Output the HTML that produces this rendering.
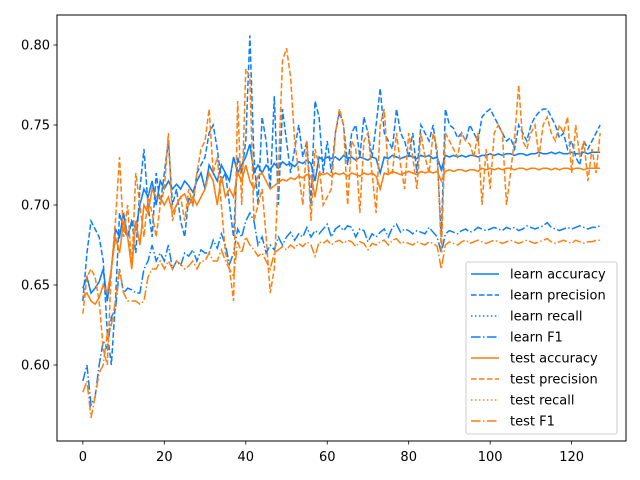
<!DOCTYPE html>
<html><head><meta charset="utf-8"><style>
body{margin:0;background:#fff}
svg{display:block;font-family:"DejaVu Sans","Liberation Sans",sans-serif}
</style></head><body>
<svg id="chart" width="640" height="480" xmlns="http://www.w3.org/2000/svg">
<rect width="640" height="480" fill="#fff"/>
<g id="plot"></g>
<rect x="57" y="15" width="569" height="426" fill="none" stroke="#000" stroke-width="1"/>
<g id="axes"></g>
<g id="legend"></g>
</svg>
<script>
const xTicks=[0,20,40,60,80,100,120];
const yTicks=[0.60,0.65,0.70,0.75,0.80];
const learnAccuracy=[0.648,0.655,0.645,0.648,0.652,0.66,0.64,0.66,0.685,0.68,0.695,0.68,0.69,0.685,0.70,0.71,0.705,0.715,0.70,0.715,0.71,0.715,0.71,0.713,0.71,0.715,0.712,0.708,0.715,0.72,0.71,0.725,0.72,0.715,0.725,0.72,0.715,0.73,0.72,0.725,0.73,0.738,0.72,0.725,0.72,0.725,0.722,0.726,0.723,0.727,0.725,0.726,0.724,0.727,0.726,0.728,0.726,0.715,0.73,0.728,0.73,0.729,0.73,0.728,0.731,0.729,0.73,0.728,0.73,0.729,0.728,0.73,0.729,0.72,0.73,0.729,0.731,0.73,0.729,0.73,0.731,0.73,0.729,0.731,0.73,0.731,0.729,0.73,0.722,0.731,0.73,0.731,0.73,0.731,0.73,0.731,0.731,0.73,0.731,0.731,0.732,0.731,0.732,0.731,0.732,0.732,0.731,0.732,0.732,0.731,0.732,0.732,0.733,0.732,0.732,0.733,0.732,0.733,0.732,0.732,0.733,0.732,0.732,0.733,0.732,0.733,0.733,0.733];
const learnPrecision=[0.64,0.67,0.69,0.685,0.68,0.665,0.62,0.60,0.64,0.695,0.685,0.68,0.69,0.67,0.71,0.735,0.70,0.68,0.72,0.70,0.72,0.74,0.70,0.71,0.69,0.68,0.705,0.70,0.72,0.725,0.73,0.745,0.75,0.735,0.715,0.72,0.70,0.68,0.73,0.72,0.74,0.806,0.73,0.70,0.755,0.74,0.71,0.768,0.70,0.76,0.74,0.72,0.735,0.75,0.73,0.74,0.70,0.765,0.755,0.72,0.74,0.72,0.745,0.758,0.75,0.725,0.745,0.75,0.73,0.755,0.745,0.73,0.75,0.773,0.745,0.74,0.735,0.76,0.745,0.74,0.73,0.745,0.72,0.75,0.745,0.74,0.75,0.73,0.68,0.76,0.75,0.748,0.742,0.745,0.74,0.75,0.745,0.74,0.755,0.758,0.76,0.755,0.75,0.745,0.74,0.742,0.735,0.75,0.745,0.74,0.75,0.755,0.758,0.76,0.76,0.755,0.75,0.742,0.745,0.735,0.74,0.73,0.725,0.74,0.735,0.74,0.745,0.75];
const learnF1=[0.59,0.60,0.575,0.58,0.60,0.615,0.61,0.63,0.635,0.66,0.645,0.648,0.647,0.645,0.645,0.66,0.665,0.675,0.665,0.67,0.665,0.675,0.66,0.665,0.662,0.67,0.668,0.672,0.665,0.672,0.67,0.67,0.678,0.673,0.682,0.675,0.663,0.67,0.685,0.68,0.69,0.695,0.69,0.675,0.68,0.67,0.675,0.672,0.68,0.675,0.68,0.683,0.678,0.682,0.68,0.686,0.68,0.684,0.682,0.685,0.688,0.68,0.685,0.687,0.684,0.687,0.686,0.68,0.685,0.684,0.677,0.682,0.68,0.683,0.685,0.68,0.686,0.688,0.683,0.685,0.684,0.682,0.684,0.683,0.682,0.686,0.683,0.68,0.67,0.682,0.684,0.683,0.682,0.684,0.685,0.683,0.684,0.686,0.685,0.684,0.685,0.686,0.685,0.684,0.686,0.685,0.686,0.684,0.685,0.687,0.686,0.685,0.686,0.687,0.689,0.686,0.685,0.684,0.685,0.686,0.685,0.686,0.687,0.686,0.685,0.686,0.686,0.687];
const testAccuracy=[0.643,0.645,0.64,0.638,0.642,0.65,0.645,0.66,0.68,0.67,0.69,0.68,0.66,0.69,0.675,0.70,0.695,0.71,0.705,0.705,0.70,0.705,0.695,0.70,0.705,0.707,0.70,0.705,0.70,0.705,0.71,0.72,0.715,0.70,0.718,0.705,0.71,0.705,0.72,0.715,0.725,0.715,0.71,0.718,0.72,0.715,0.71,0.712,0.714,0.716,0.715,0.717,0.716,0.718,0.717,0.719,0.718,0.705,0.72,0.719,0.72,0.718,0.72,0.719,0.72,0.718,0.72,0.719,0.718,0.72,0.719,0.72,0.718,0.71,0.72,0.719,0.721,0.72,0.719,0.72,0.721,0.72,0.719,0.721,0.72,0.721,0.72,0.721,0.715,0.721,0.722,0.721,0.722,0.722,0.721,0.722,0.722,0.721,0.723,0.722,0.723,0.722,0.723,0.722,0.723,0.723,0.722,0.723,0.723,0.722,0.723,0.723,0.722,0.723,0.723,0.722,0.723,0.722,0.723,0.723,0.722,0.723,0.723,0.722,0.723,0.723,0.723,0.723];
const testPrecision=[0.632,0.655,0.66,0.655,0.64,0.61,0.60,0.66,0.69,0.73,0.68,0.70,0.66,0.72,0.70,0.68,0.705,0.695,0.68,0.70,0.71,0.745,0.69,0.70,0.705,0.69,0.71,0.70,0.72,0.735,0.74,0.76,0.72,0.73,0.70,0.67,0.66,0.64,0.765,0.70,0.785,0.78,0.69,0.70,0.71,0.68,0.645,0.66,0.72,0.79,0.798,0.78,0.74,0.72,0.70,0.74,0.69,0.735,0.725,0.70,0.705,0.71,0.745,0.76,0.75,0.70,0.74,0.735,0.695,0.74,0.745,0.72,0.695,0.75,0.76,0.72,0.72,0.745,0.725,0.71,0.745,0.73,0.71,0.745,0.73,0.72,0.745,0.735,0.67,0.745,0.74,0.735,0.73,0.745,0.74,0.738,0.73,0.745,0.70,0.735,0.71,0.745,0.75,0.745,0.70,0.72,0.742,0.775,0.74,0.735,0.745,0.75,0.73,0.75,0.755,0.745,0.74,0.75,0.745,0.755,0.72,0.75,0.73,0.74,0.715,0.735,0.72,0.745];
const testF1=[0.583,0.59,0.567,0.58,0.595,0.60,0.62,0.625,0.64,0.66,0.645,0.64,0.64,0.64,0.638,0.64,0.655,0.66,0.66,0.665,0.66,0.665,0.66,0.665,0.663,0.66,0.662,0.665,0.66,0.665,0.665,0.67,0.665,0.665,0.672,0.665,0.66,0.655,0.677,0.67,0.68,0.675,0.672,0.668,0.67,0.665,0.66,0.67,0.672,0.674,0.672,0.675,0.673,0.676,0.674,0.677,0.675,0.668,0.677,0.676,0.678,0.675,0.677,0.678,0.676,0.678,0.677,0.674,0.677,0.676,0.672,0.676,0.675,0.677,0.678,0.675,0.678,0.679,0.676,0.677,0.676,0.675,0.677,0.676,0.675,0.677,0.676,0.674,0.66,0.675,0.677,0.676,0.675,0.677,0.678,0.676,0.677,0.678,0.677,0.676,0.677,0.678,0.677,0.676,0.677,0.678,0.677,0.676,0.677,0.678,0.677,0.676,0.677,0.678,0.679,0.677,0.676,0.677,0.678,0.677,0.676,0.678,0.677,0.676,0.677,0.677,0.678,0.678];
const learnRecall=learnAccuracy;
const testRecall=testAccuracy;

const NS='http://www.w3.org/2000/svg';
const X0=57,X1=626,XMIN=-6.35,XMAX=133.35;
function xs(v){return X0+(v-XMIN)/(XMAX-XMIN)*(X1-X0);}
function ys(v){return 45+(0.80-v)*1600;}
function mk(tag,attrs,parent){const e=document.createElementNS(NS,tag);for(const k in attrs)e.setAttribute(k,attrs[k]);parent.appendChild(e);return e;}
const BLUE='#0a7eff',ORANGE='#ff7f0e';
const DASH={solid:'',dashed:'5.55,2.4',dotted:'1.5,2.475',dashdot:'9.6,2.4,1.5,2.4'};
const series=[
 ['learn accuracy',learnAccuracy,BLUE,'solid','learn-accuracy-line'],
 ['learn precision',learnPrecision,BLUE,'dashed','learn-precision-line'],
 ['learn recall',learnRecall,BLUE,'dotted','learn-recall-line'],
 ['learn F1',learnF1,BLUE,'dashdot','learn-f1-line'],
 ['test accuracy',testAccuracy,ORANGE,'solid','test-accuracy-line'],
 ['test precision',testPrecision,ORANGE,'dashed','test-precision-line'],
 ['test recall',testRecall,ORANGE,'dotted','test-recall-line'],
 ['test F1',testF1,ORANGE,'dashdot','test-f1-line']];
const plot=document.getElementById('plot');
series.forEach(s=>{
 const pts=s[1].map((v,i)=>xs(i).toFixed(2)+','+ys(v).toFixed(2)).join(' ');
 const p=mk('polyline',{points:pts,fill:'none',stroke:s[2],'stroke-width':1.5,'stroke-dasharray':DASH[s[3]]},plot);
 
 
});
const axes=document.getElementById('axes');
xTicks.forEach(t=>{
 const x=xs(t);
 const l=mk('line',{x1:x,x2:x,y1:441,y2:444.5,stroke:'#000','stroke-width':0.8},axes);
 
 
 const tx=mk('text',{x:x,y:461,'font-size':13,'text-anchor':'middle',fill:'#000'},axes);
 tx.textContent=String(t);
 
 
});
yTicks.forEach(t=>{
 const y=ys(t);
 const l=mk('line',{x1:53.5,x2:57,y1:y,y2:y,stroke:'#000','stroke-width':0.8},axes);
 
 
 const tx=mk('text',{x:50,y:y+4.5,'font-size':13,'text-anchor':'end',fill:'#000'},axes);
 tx.textContent=t.toFixed(2);
 
 
});
const lg=document.getElementById('legend');
const box=mk('rect',{x:466,y:262,width:151,height:172,rx:2,fill:'#fff','fill-opacity':0.8,stroke:'#ccc','stroke-width':1},lg);


series.forEach((s,i)=>{
 const y=274+i*21;
 const l=mk('line',{x1:471,x2:499,y1:y,y2:y,stroke:s[2],'stroke-width':1.5,'stroke-dasharray':DASH[s[3]]},lg);
 
 
 const tx=mk('text',{x:510,y:y+4.5,'font-size':13,fill:'#000'},lg);
 tx.textContent=s[0];
 
 
});
</script>
</body></html>
